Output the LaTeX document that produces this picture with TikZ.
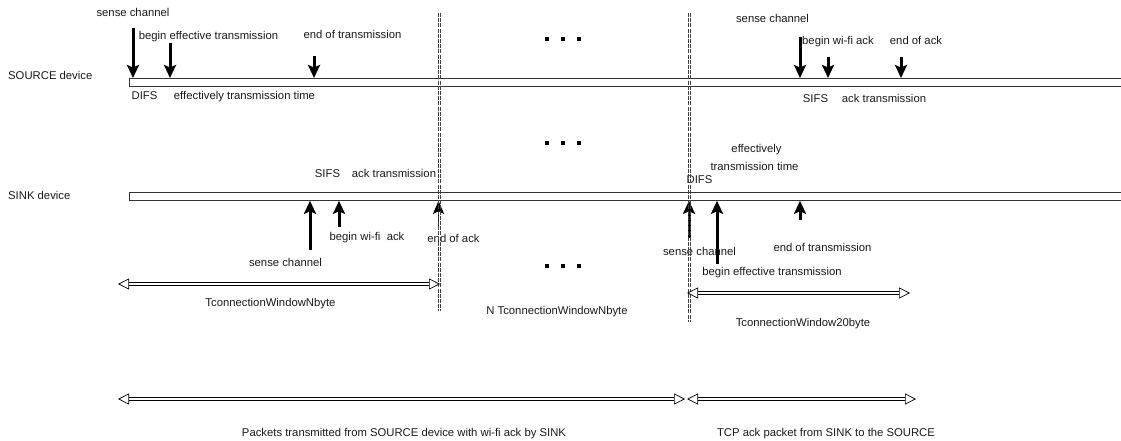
\documentclass[tikz,border=0pt]{standalone}
\usepackage{fontspec}
\setmainfont{Liberation Sans}
\usetikzlibrary{arrows.meta}
\begin{document}
\begin{tikzpicture}[x=1pt,y=-1pt,
  lbl/.style={inner sep=0pt, text height=8pt, text depth=2pt, font=\fontsize{11.3}{13}\selectfont, text=black!90},
  bar/.style={draw=black!80, fill=white, line width=0.8pt, minimum height=8pt, minimum width=1000pt, inner sep=0pt, anchor=north west},
  bigarrow/.style={line width=3pt, -{Stealth[length=13pt, width=12pt, inset=2.5pt]}},
  thinarrow/.style={line width=1.4pt, -{Stealth[length=13pt, width=11pt, inset=2.5pt]}},
  dbl/.style={double=white, double distance=2.2pt, line width=0.7pt,
    {Triangle[fill=white, length=11pt, width=11pt, line width=0.7pt]}-{Triangle[fill=white, length=11pt, width=11pt, line width=0.7pt]}},
  sepline/.style={draw=black!75, line width=0.6pt, dash pattern=on 4pt off 1.2pt},
  dot/.style={fill=black, minimum size=3.5pt, inner sep=0pt}
]
\useasboundingbox (0,0) rectangle (1121,441);

% bars
\node[bar] (srcbar) at (129,78) {};
\node[bar] (sinkbar) at (129,192) {};
\node[lbl, anchor=west] (srclbl) at (8,77) {SOURCE device};
\node[lbl, anchor=west] (sinklbl) at (8,196) {SINK device};

% separators
\coordinate (s1t) at (439,13); \coordinate (s1b) at (439,311);
\coordinate (s2t) at (689,13); \coordinate (s2b) at (689,322);

% dots
\foreach \y/\r in {39/a,143/b,266/c}{
  \node[dot] (d1\r) at (547,\y) {};
  \node[dot] (d2\r) at (563,\y) {};
  \node[dot] (d3\r) at (579,\y) {};
}

% SOURCE arrows (down)
\coordinate (sa1) at (133,28);
\coordinate (sa2) at (170,43);
\coordinate (sa3) at (314,56);
\coordinate (sa4) at (800,37);
\coordinate (sa5) at (828,57);
\coordinate (sa6) at (901,57);
\foreach \c in {sa1,sa2,sa3,sa4,sa5,sa6}{
  \draw[bigarrow] (\c) -- (\c |- srcbar.north);
}

% SOURCE labels
\node[lbl] (t1) at (133,14) {sense channel};
\node[lbl] (t2) at (208.5,37) {begin effective transmission};
\node[lbl] (t3) at (352.5,36) {end of transmission};
\node[lbl] (t4) at (144.5,97) {DIFS};
\node[lbl] (t5) at (244.5,97) {effectively transmission time};
\node[lbl] (t6) at (772.5,20) {sense channel};
\node[lbl] (t7) at (838,42) {begin wi-fi ack};
\node[lbl] (t8) at (916,42) {end of ack};
\node[lbl] (t9) at (815.5,100) {SIFS};
\node[lbl] (t10) at (884,100) {ack transmission};

% SINK arrows (up)
\coordinate (ka1) at (310,250);
\coordinate (ka2) at (339,227);
\coordinate (ka4) at (689,238);
\coordinate (ka5) at (717,264);
\coordinate (ka6) at (800,220);
\foreach \c in {ka1,ka2,ka4,ka5,ka6}{
  \draw[bigarrow] (\c) -- (\c |- sinkbar.south);
}
\coordinate (ka3) at (438.5,228);
\draw[thinarrow] (ka3) -- (ka3 |- sinkbar.south);

% SINK labels
\node[lbl] (u1) at (327.5,174) {SIFS};
\node[lbl] (u2) at (394,174) {ack transmission};
\node[lbl] (u3) at (285.5,263) {sense channel};
\node[lbl] (u4) at (367,237) {begin wi-fi\ \ ack};
\node[lbl] (u5) at (453.5,239) {end of ack};
\node[lbl] (u6) at (756.5,150) {effectively};
\node[lbl] (u7) at (754.5,167) {transmission time};
\node[lbl] (u8) at (699.5,180) {DIFS};
\node[lbl] (u9) at (699.5,252) {sense channel};
\node[lbl] (u10) at (772,272) {begin effective transmission};
\node[lbl] (u11) at (822.5,248) {end of transmission};

% separators drawn over (pairs of thin dashed lines)
\foreach \d in {-0.9,0.9}{
  \draw[sepline] ([xshift=\d pt]s1t) -- ([xshift=\d pt]s1b);
  \draw[sepline] ([xshift=\d pt]s2t) -- ([xshift=\d pt]s2b);
}

% double arrows
\coordinate (w1a) at (118,284); \coordinate (w1b) at (440,284);
\draw[dbl] (w1a) -- (w1b);
\node[lbl] (v1) at (270.5,303) {TconnectionWindowNbyte};
\coordinate (w2a) at (687,293); \coordinate (w2b) at (910,293);
\draw[dbl] (w2a) -- (w2b);
\node[lbl] (v2) at (803,323) {TconnectionWindow20byte};
\node[lbl] (v3) at (557,311) {N TconnectionWindowNbyte};

\coordinate (w3a) at (118,399); \coordinate (w3b) at (685,399);
\draw[dbl] (w3a) -- (w3b);
\node[lbl] (v4) at (404,433) {Packets transmitted from SOURCE device with wi-fi ack by SINK};
\coordinate (w4a) at (687,399); \coordinate (w4b) at (916,399);
\draw[dbl] (w4a) -- (w4b);
\node[lbl] (v5) at (826,433) {TCP ack packet from SINK to the SOURCE};
\end{tikzpicture}
\end{document}
